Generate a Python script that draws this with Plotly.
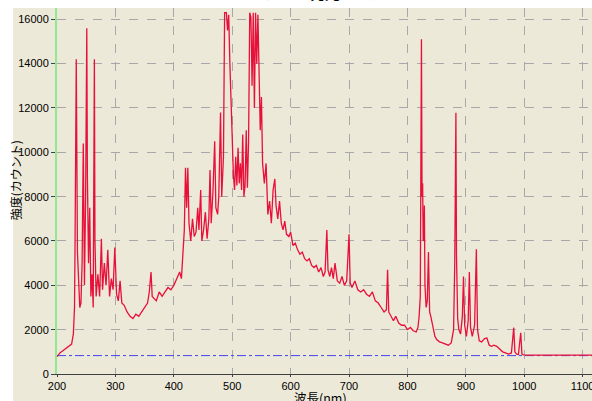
import plotly.graph_objects as go

# wavelength (nm) and intensity (counts)
wavelength = [
    200, 205, 210, 215, 220, 225, 228, 230, 231, 233, 235, 237, 239, 241, 243, 245, 247, 249,
    251, 252, 254, 256, 258, 260, 262, 264, 265, 267, 270, 273, 276, 278, 281, 284, 287, 290,
    293, 296, 299, 302, 305, 308, 311, 315, 320, 325, 330, 335, 340, 345, 350, 355, 358, 361,
    363, 366, 370, 375, 380, 385, 390, 395, 400, 405, 410, 413, 416, 418, 420, 422, 424, 426,
    429, 432, 435, 438, 441, 443, 446, 448, 451, 454, 457, 460, 462, 464, 467, 470, 472, 475,
    477, 480, 482, 485, 487, 490, 492, 494, 496, 498, 500, 502, 504, 506, 508, 510, 512, 514,
    516, 518, 520, 522, 524, 526, 528, 530, 532, 534, 536, 538, 540, 542, 544, 546, 548, 550,
    552, 555, 558, 561, 564, 567, 570, 573, 575, 578, 581, 584, 587, 590, 593, 597, 600, 604,
    608, 612, 616, 620, 624, 628, 632, 636, 640, 644, 648, 652, 656, 659, 662, 664, 667, 670,
    673, 676, 680, 684, 688, 692, 696, 700, 702, 705, 710, 715, 720, 725, 730, 735, 740, 745,
    750, 755, 760, 764, 766, 768, 772, 776, 780, 785, 790, 795, 800, 805, 810, 815, 818, 820,
    822, 824, 825, 826, 827, 828, 829, 830, 832, 834, 836, 838, 840, 842, 844, 847, 850, 855,
    860, 865, 870, 875, 879, 881, 883, 884, 886, 888, 891, 894, 896, 898, 901, 904, 906, 908,
    911, 915, 918, 920, 923, 927, 932, 936, 940, 944, 948, 953, 958, 963, 968, 973, 978, 982,
    984, 987, 990, 994, 996, 999, 1005, 1015, 1030, 1050, 1070, 1090, 1116,
]
intensity = [
    780, 950, 1050, 1150, 1250, 1350, 1800, 3000, 6200, 14200, 5500, 4500, 3000, 3200, 5000, 10400, 4000, 8000,
    15600, 9000, 5000, 7500, 3500, 4500, 3000, 14200, 6000, 3500, 4500, 3500, 6100, 3800, 5000, 4000, 5600, 3500,
    4300, 3800, 5700, 3600, 3300, 4200, 3200, 3100, 2800, 2600, 2500, 2700, 2600, 2800, 3000, 3200, 3700, 4600,
    3500, 3400, 3300, 3700, 3500, 3700, 3900, 3800, 4000, 4300, 4600, 4300, 5500, 6500, 9300, 7500, 9300, 6800,
    6000, 7000, 6200, 6400, 7500, 6500, 8300, 6000, 6500, 7300, 6100, 7000, 9200, 6800, 8200, 10500, 7500, 7200,
    8000, 11800, 8000, 9800, 16300, 16300, 15500, 16200, 14000, 12000, 10500, 9000, 8300, 9800, 8500, 10200, 8600, 9500,
    8300, 10800, 8000, 8500, 11000, 8400, 10500, 16300, 16100, 13000, 16300, 12000, 16300, 14000, 16200, 12500, 11000, 12500,
    9500, 8600, 9500, 7200, 7800, 6800, 8300, 8800, 7600, 7000, 7800, 6800, 6500, 6900, 6300, 6200, 6400, 5800,
    5900, 5600, 5400, 5500, 5200, 5100, 5200, 4900, 4800, 4900, 4600, 4800, 4400, 4600, 6500, 4700, 4400, 4800,
    4300, 5000, 4200, 4100, 4400, 4000, 4200, 6300, 4100, 3900, 4200, 3800, 3700, 3800, 3600, 3500, 3700, 3300,
    3200, 3000, 2800, 2900, 4700, 2800, 2600, 2400, 2600, 2300, 2200, 2200, 2000, 2100, 1950, 1900, 2100, 2600,
    3500, 15100, 8000, 8600, 6000, 6100, 7600, 4000, 3000, 3300, 5500, 2800, 2600, 2350, 2000, 1700, 1550, 1450,
    1400, 1350, 1300, 1400, 2000, 5000, 11780, 5300, 2500, 2000, 1800, 2600, 4400, 2200, 1700, 2400, 4600, 2100,
    1700, 2200, 5630, 2000, 1500, 1450, 1600, 1620, 1300, 1250, 1300, 1250, 1100, 1000, 950, 900, 950, 2090,
    1000, 900, 880, 1860, 900, 860, 850, 860, 850, 855, 850, 860, 850,
]

# flat reference (dark) level
ref_wavelength = [200, 1116]
ref_intensity = [830, 830]

x_ticks = [200, 300, 400, 500, 600, 700, 800, 900, 1000, 1100]
y_ticks = [0, 2000, 4000, 6000, 8000, 10000, 12000, 14000, 16000]

BEIGE = "#ECE9D8"

fig = go.Figure()
fig.add_trace(go.Scatter(
    x=ref_wavelength, y=ref_intensity, mode="lines",
    line=dict(color="#4444EE", width=1, dash="dashdot"),
    hoverinfo="skip", showlegend=False,
))
fig.add_trace(go.Scatter(
    x=wavelength, y=intensity, mode="lines",
    line=dict(color="#E8103A", width=1.3),
    showlegend=False,
))

fig.update_layout(
    width=592, height=401,
    margin=dict(l=57, r=0, t=8, b=27, autoexpand=False),
    paper_bgcolor="white",
    plot_bgcolor=BEIGE,
    font=dict(family="Liberation Sans, Arial, sans-serif", size=11, color="black"),
    shapes=[dict(
        type="rect", xref="paper", yref="paper",
        x0=-0.082, x1=1.05, y0=-0.1, y1=1.0,
        fillcolor=BEIGE, line=dict(width=0), layer="below",
    )],
    annotations=[
        dict(text="強度(カウント)", xref="paper", yref="paper", x=-0.078, y=0.53,
             textangle=-90, showarrow=False, xanchor="center", yanchor="middle",
             font=dict(family="Noto Sans CJK JP", size=12, color="black")),
        dict(text="波長(nm)", xref="paper", yref="paper", x=0.493, y=-0.063,
             showarrow=False, xanchor="center", yanchor="middle",
             font=dict(family="Noto Sans CJK JP", size=12.5, color="black")),
        dict(text="キセノンランプ 発光スペクトル", xref="paper", yref="paper", x=0.47, y=1.008,
             showarrow=False, xanchor="center", yanchor="bottom",
             font=dict(family="Noto Sans CJK JP", size=15, color="black")),
    ],
)

fig.update_xaxes(
    range=[200, 1116], tickvals=x_ticks, ticktext=[str(v) for v in x_ticks],
    showgrid=True, gridcolor="#A8A8A8", griddash="dash", gridwidth=1,
    showline=True, linecolor="#404040", linewidth=1,
    ticks="outside", ticklen=2, tickcolor="#404040",
    ticklabeloverflow="allow",
    zeroline=False, fixedrange=True, automargin=False,
)
fig.update_yaxes(
    range=[0, 16510], tickvals=y_ticks, ticktext=[str(v) for v in y_ticks],
    showgrid=True, gridcolor="#A8A8A8", griddash="dash", gridwidth=1,
    showline=True, linecolor="#90E890", linewidth=2,
    ticks="outside", ticklen=4, tickcolor="#404040",
    ticklabeloverflow="allow",
    zeroline=False, fixedrange=True, automargin=False,
)

fig.write_html(
    "out.html",
    config={"displayModeBar": False},
    post_script="document.body.style.margin='0px';",
)
